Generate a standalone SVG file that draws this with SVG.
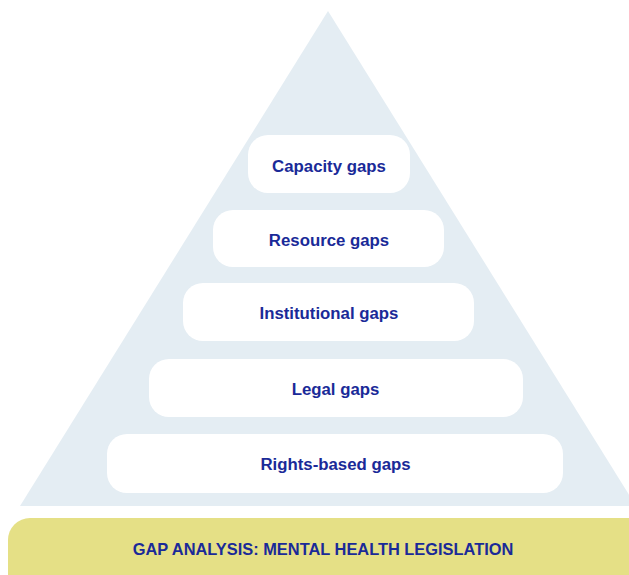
<svg xmlns="http://www.w3.org/2000/svg" width="629" height="575" viewBox="0 0 629 575">
<style>
.box{fill:#ffffff}
.lbl{font-family:"Liberation Sans",Arial,sans-serif;font-weight:bold;font-size:16.8px;fill:#1a2a98;text-anchor:middle}
.base{font-size:16.4px}
</style>
<rect width="629" height="575" fill="#ffffff"/>
<g id="pyramid"><polygon points="328,11 20,506 636,506" fill="#e4edf3"/></g>
<g id="capacity"><rect class="box" x="248" y="135" width="162" height="58" rx="20"/><text class="lbl" x="329" y="172">Capacity gaps</text></g>
<g id="resource"><rect class="box" x="213" y="210" width="231" height="57" rx="20"/><text class="lbl" x="329" y="246">Resource gaps</text></g>
<g id="institutional"><rect class="box" x="183" y="283" width="291" height="58" rx="20"/><text class="lbl" x="329" y="319">Institutional gaps</text></g>
<g id="legal"><rect class="box" x="149" y="359" width="374" height="58" rx="20"/><text class="lbl" x="335.5" y="395">Legal gaps</text></g>
<g id="rights"><rect class="box" x="107" y="434" width="456" height="59" rx="20"/><text class="lbl" x="335.5" y="470">Rights-based gaps</text></g>
<g id="base"><rect x="8" y="518" width="650" height="80" rx="22" fill="#e5e086"/><text class="lbl base" x="323" y="555">GAP ANALYSIS: MENTAL HEALTH LEGISLATION</text></g>
<g id="connectors"/>
</svg>
